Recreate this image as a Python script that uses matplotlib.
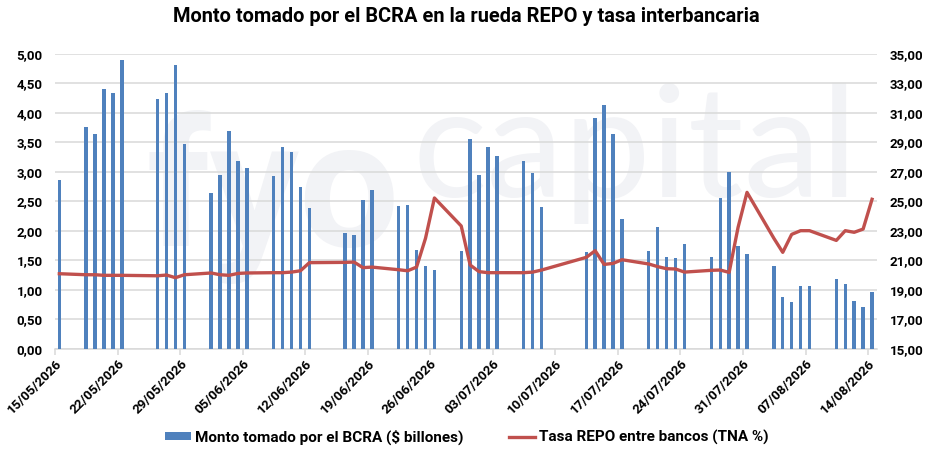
import numpy as np
import pandas as pd
import matplotlib
matplotlib.use('Agg')
import matplotlib.pyplot as plt
import matplotlib.dates as mdates
from matplotlib.ticker import FuncFormatter, FixedLocator

# dias habiles (dd/mm, 2026)
fechas = ['15/05', '18/05', '19/05', '20/05', '21/05', '22/05', '26/05', '27/05', '28/05', '29/05',
          '01/06', '02/06', '03/06', '04/06', '05/06', '08/06', '09/06', '10/06', '11/06', '12/06',
          '16/06', '17/06', '18/06', '19/06', '22/06', '23/06', '24/06', '25/06', '26/06',
          '29/06', '30/06', '01/07', '02/07', '03/07', '06/07', '07/07', '08/07',
          '13/07', '14/07', '15/07', '16/07', '17/07', '20/07', '21/07', '22/07', '23/07', '24/07',
          '27/07', '28/07', '29/07', '30/07', '31/07', '03/08', '04/08', '05/08', '06/08', '07/08',
          '10/08', '11/08', '12/08', '13/08', '14/08']

# monto tomado por el BCRA ($ billones)
monto = [2.87, 3.76, 3.64, 4.40, 4.34, 4.89, 4.23, 4.34, 4.81, 3.47,
         2.64, 2.94, 3.70, 3.18, 3.07, 2.93, 3.42, 3.33, 2.74, 2.38,
         1.96, 1.93, 2.53, 2.70, 2.42, 2.43, 1.67, 1.41, 1.33,
         1.66, 3.55, 2.95, 3.43, 3.27, 3.19, 2.98, 2.41,
         1.64, 3.91, 4.13, 3.65, 2.20, 1.65, 2.06, 1.56, 1.54, 1.77,
         1.56, 2.56, 2.99, 1.75, 1.60, 1.41, 0.87, 0.80, 1.07, 1.07,
         1.19, 1.10, 0.81, 0.71, 0.97]

# tasa REPO entre bancos (TNA %)
tasa = [20.09, 20.02, 20.02, 19.98, 19.98, 19.98, 19.95, 20.00, 19.82, 20.02,
        20.14, 20.02, 19.98, 20.11, 20.14, 20.16, 20.16, 20.20, 20.29, 20.84,
        20.86, 20.88, 20.50, 20.54, 20.36, 20.29, 20.54, 22.49, 25.23,
        23.33, 20.68, 20.23, 20.16, 20.16, 20.16, 20.20, 20.34,
        21.20, 21.65, 20.72, 20.79, 21.04, 20.75, 20.57, 20.43, 20.41, 20.20,
        20.32, 20.34, 20.18, 23.24, 25.61, 22.50, 21.54, 22.76, 23.01, 23.01,
        22.35, 23.01, 22.90, 23.12, 25.14]

ticks_izq = [0, 0.5, 1, 1.5, 2, 2.5, 3, 3.5, 4, 4.5, 5]
ticks_der = [15, 17, 19, 21, 23, 25, 27, 29, 31, 33, 35]

dias = pd.to_datetime([f + '/2026' for f in fechas], format='%d/%m/%Y')
x = mdates.date2num(dias) + 0.45

azul = '#4F81BD'
rojo = '#C0504D'
gris = '#D9D9D9'
marca = '#F2F3F6'

plt.rcParams['font.family'] = ['Roboto', 'DejaVu Sans']

fig = plt.figure(figsize=(9.28, 4.62), dpi=100)
ax = fig.add_axes([0.0596, 0.2452, 0.8854, 0.6379])
ax2 = ax.twinx()

# marca de agua
fig.text(0.158, 0.468, 'fyo', fontsize=128, fontweight='bold', color=marca, zorder=0)
fig.text(0.445, 0.573, 'capital', fontsize=112, color=marca, zorder=0,
         family=['Lato', 'DejaVu Sans'])
ax.set_zorder(2)
ax2.set_zorder(3)
ax.patch.set_visible(False)

b = ax.bar(x, monto, width=0.38, color=azul, zorder=3, label='Monto tomado por el BCRA ($ billones)')
l, = ax2.plot(x, tasa, color=rojo, lw=2.4, solid_joinstyle='round', label='Tasa REPO entre bancos (TNA %)')

inicio = mdates.date2num(pd.Timestamp('2026-05-15'))
ax.set_xlim(inicio, inicio + 92)
ax.set_ylim(0, 5)
ax2.set_ylim(15, 35)
ax.yaxis.set_major_locator(FixedLocator(ticks_izq))
ax2.yaxis.set_major_locator(FixedLocator(ticks_der))
coma = FuncFormatter(lambda v, p: f'{v:.2f}'.replace('.', ','))
ax.yaxis.set_major_formatter(coma)
ax2.yaxis.set_major_formatter(coma)

ticks = mdates.date2num(pd.date_range('2026-05-15', '2026-08-14', freq='7D'))
ax.set_xticks(ticks)
ax.xaxis.set_major_formatter(mdates.DateFormatter('%d/%m/%Y'))

ax.grid(axis='y', color=gris, lw=1.1, zorder=0)
for a in (ax, ax2):
    for s in ['top', 'right', 'left', 'bottom']:
        a.spines[s].set_visible(False)
ax.spines['bottom'].set_visible(True)
ax.spines['bottom'].set_color(gris)
ax.spines['bottom'].set_linewidth(1.1)

ax.tick_params(axis='y', length=0, pad=9, labelsize=9.5)
ax2.tick_params(axis='y', length=0, pad=9, labelsize=9.5)
ax.tick_params(axis='x', length=4, color=gris, width=1.1, pad=2, labelsize=9.5)
for t in ax.get_yticklabels() + ax2.get_yticklabels():
    t.set_fontweight('bold')
for t in ax.get_xticklabels():
    t.set_fontweight('bold')
    t.set_rotation(45)
    t.set_ha('right')
    t.set_rotation_mode('anchor')

fig.suptitle('Monto tomado por el BCRA en la rueda REPO y tasa interbancaria',
             x=0.502, y=0.985, fontsize=14.4, fontweight='bold')

leg = fig.legend([b, l], [b.get_label(), l.get_label()], loc='center', ncol=2,
                 bbox_to_anchor=(0.503, 0.054), frameon=False, fontsize=11,
                 handlelength=1.7, handleheight=0.5, columnspacing=3.0, handletextpad=0.25)
for t in leg.get_texts():
    t.set_fontweight('bold')

fig.savefig('out.png', dpi=100)
